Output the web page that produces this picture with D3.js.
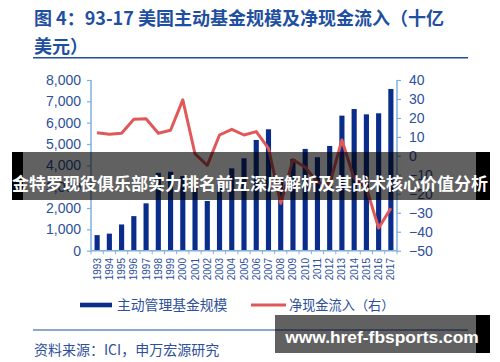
<!DOCTYPE html>
<html><head><meta charset="utf-8">
<script src="https://cdn.jsdelivr.net/npm/d3@7"></script>
<style>
html,body{margin:0;padding:0;background:#fff;}
svg{display:block;}
</style></head>
<body>
<script>
const years = ["1993","1994","1995","1996","1997","1998","1999","2000","2001","2002","2003","2004","2005","2006","2007","2008","2009","2010","2011","2012","2013","2014","2015","2016","2017"];
const assets = [730,800,1230,1620,2220,3650,3700,3500,3000,2330,3100,3860,4330,5190,5690,3400,4300,4770,4380,4910,6330,6640,6390,6440,7580];
const netFlow = [12.2,11.4,11.9,19.3,19.6,11.9,13.5,29.5,1,-5,11,14,11,12.8,4,-25,-2,-6,-14,-15,8.4,-12,-17,-38,-27.6];
const leftTicks = [0,1000,2000,3000,4000,5000,6000,7000,8000];
const rightTicks = [-50,-40,-30,-20,-10,0,10,20,30,40];
const titleLines = ["图 4：93-17 美国主动基金规模及净现金流入（十亿","美元）"];
const legendLabels = ["主动管理基金规模","净现金流入（右）"];
const sourceText = "资料来源：ICI，申万宏源研究";
const bannerText = "金特罗现役俱乐部实力排名前五深度解析及其战术核心价值分析";
const watermarkText = "www.href-fbsports.com";

const W = 500, H = 362;
const blue = "#1f4fa0", axisCol = "#7fb0e0", textBlue = "#2d4f9c", barCol = "#0a2d8c", red = "#e05858";
const cjk = "'Noto Sans CJK SC','Noto Sans',sans-serif";
const latin = "'Liberation Sans',Arial,sans-serif";

const svg = d3.select("body").append("svg").attr("width", W).attr("height", H);

// title
svg.selectAll("text.title").data(titleLines).enter().append("text")
  .attr("x", 34).attr("y", (d,i)=> 24.5 + i*28)
  .attr("font-family", cjk).attr("font-weight", "bold").attr("font-size", 18)
  .attr("fill", blue).text(d=>d);
svg.append("line").attr("x1",33).attr("x2",468).attr("y1",57.7).attr("y2",57.7)
  .attr("stroke", blue).attr("stroke-width", 1.5);

const x = d3.scaleBand().domain(years).range([91, 397]).paddingInner(0.58).paddingOuter(0.29);
const yL = d3.scaleLinear().domain([0, 8000]).range([250.7, 80]);
const yR = d3.scaleLinear().domain([-50, 40]).range([250.7, 80]);

// bars
svg.append("g").selectAll("rect").data(years).enter().append("rect")
  .attr("x", d=>x(d)).attr("width", x.bandwidth())
  .attr("y", (d,i)=>yL(assets[i])).attr("height", (d,i)=>yL(0)-yL(assets[i]))
  .attr("fill", barCol);

// axes
const axL = d3.axisLeft(yL).tickValues(leftTicks).tickSize(4).tickPadding(6).tickFormat(d3.format(","));
const gL = svg.append("g").attr("transform","translate(91,0)").call(axL);
const axR = d3.axisRight(yR).tickValues(rightTicks).tickSize(4).tickPadding(8);
const gR = svg.append("g").attr("transform","translate(397,0)").call(axR);
[gL,gR].forEach(g=>{
  g.select(".domain").attr("stroke", axisCol).attr("stroke-width",1.5).attr("d", "M0,80V250.7");
  g.selectAll(".tick line").attr("stroke", axisCol).attr("stroke-width",1.2);
  g.selectAll(".tick text").attr("fill", textBlue).attr("font-family", latin).attr("font-size", 14);
});

// x axis
const gX = svg.append("g");
gX.append("line").attr("x1",91).attr("x2",397).attr("y1",yL(0)).attr("y2",yL(0))
  .attr("stroke", axisCol).attr("stroke-width",1.5);
const bounds = years.map(d=>x(d) - x.step()*x.paddingInner()/2).concat([397]);
gX.selectAll("line.t").data(bounds).enter().append("line")
  .attr("x1",d=>d).attr("x2",d=>d).attr("y1",yL(0)).attr("y2",yL(0)+3.5)
  .attr("stroke", axisCol).attr("stroke-width",1);
gX.selectAll("text").data(years).enter().append("text")
  .attr("transform", d=>`translate(${x(d)+x.bandwidth()/2+3.5},258) rotate(-90)`)
  .attr("text-anchor","end").attr("font-family", latin).attr("font-size", 10)
  .attr("fill", textBlue).text(d=>d);

// line
const line = d3.line().x((d,i)=>x(years[i])+x.bandwidth()/2).y(d=>yR(d));
svg.append("path").datum(netFlow).attr("d", line).attr("fill","none")
  .attr("stroke", red).attr("stroke-width", 3).attr("stroke-linejoin","round");

// legend
svg.append("rect").attr("x",80).attr("y",302.7).attr("width",32).attr("height",4.6).attr("fill", barCol);
svg.append("text").attr("x",117).attr("y",310).attr("font-family", cjk).attr("font-size",13.8)
  .attr("fill", textBlue).text(legendLabels[0]);
svg.append("line").attr("x1",251).attr("x2",286).attr("y1",305).attr("y2",305)
  .attr("stroke", red).attr("stroke-width",3);
svg.append("text").attr("x",289).attr("y",310).attr("font-family", cjk).attr("font-size",13.2)
  .attr("fill", textBlue).text(legendLabels[1]);

// bottom line and source
svg.append("line").attr("x1",33).attr("x2",468).attr("y1",330).attr("y2",330)
  .attr("stroke", blue).attr("stroke-width",1.2);
svg.append("text").attr("x",34).attr("y",355).attr("font-family", cjk).attr("font-size",14)
  .attr("fill", textBlue).text(sourceText);

// banner overlay
svg.append("rect").attr("x",12).attr("y",152).attr("width",11).attr("height",48).attr("fill","#000");
svg.append("rect").attr("x",476).attr("y",152).attr("width",14).attr("height",48).attr("fill","#000");
svg.append("rect").attr("x",23).attr("y",152).attr("width",453).attr("height",48).attr("fill","rgba(0,0,0,0.62)");
svg.append("text").attr("x",250).attr("y",189.5).attr("text-anchor","middle")
  .attr("font-family", cjk).attr("font-weight","bold").attr("font-size",17)
  .attr("fill","#fff").text(bannerText);

// watermark
svg.append("rect").attr("x",275).attr("y",315).attr("width",201).attr("height",38).attr("fill","rgba(0,0,0,0.62)");
svg.append("rect").attr("x",476).attr("y",315).attr("width",14).attr("height",38).attr("fill","#000");
svg.append("text").attr("x",382).attr("y",343).attr("text-anchor","middle")
  .attr("font-family", latin).attr("font-weight","bold").attr("font-size",17.4)
  .attr("fill","#fff").text(watermarkText);
</script>
</body></html>
